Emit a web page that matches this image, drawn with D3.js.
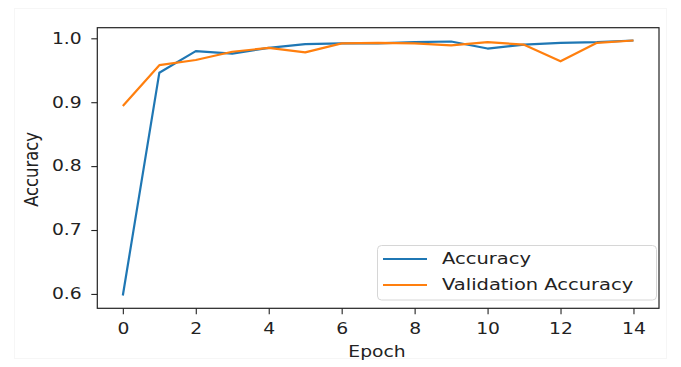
<!DOCTYPE html>
<html>
<head>
<meta charset="utf-8">
<script src="https://cdn.jsdelivr.net/npm/d3@7"></script>
<style>
  html, body { margin: 0; padding: 0; background: #fff; }
  svg { display: block; }
  text { font-family: "DejaVu Sans", sans-serif; fill: #222; }
</style>
</head>
<body>
<svg id="chart" width="681" height="367"></svg>
<script>
const epochs = [0,1,2,3,4,5,6,7,8,9,10,11,12,13,14];
const accuracy = [0.5975, 0.946, 0.980, 0.976, 0.985, 0.991, 0.992, 0.992, 0.994, 0.995, 0.984, 0.990, 0.993, 0.994, 0.9966];
const valAccuracy = [0.894, 0.958, 0.966, 0.979, 0.985, 0.978, 0.992, 0.993, 0.992, 0.989, 0.994, 0.990, 0.964, 0.993, 0.9966];
const xTicks = [0,2,4,6,8,10,12,14];
const yTicks = [0.6,0.7,0.8,0.9,1.0];
const seriesNames = ["Accuracy", "Validation Accuracy"];
const colors = ["#1f77b4", "#ff7f0e"];

const svg = d3.select("#chart");
const mLeft = 97.3, mRight = 659, mTop = 27.7, mBottom = 308.3;
const FS = 15, SX = 1.25;

const x = d3.scaleLinear().domain([-0.7, 14.7]).range([mLeft, mRight]);
const y = d3.scaleLinear().domain([0.5775, 1.0166]).range([mBottom, mTop]);

// faint image frame
svg.append("rect").attr("x", 14.5).attr("y", 8.5).attr("width", 652).attr("height", 350)
  .attr("fill", "none").attr("stroke", "#f6f6f6").attr("stroke-width", 1);

// lines
const line = d3.line().x((d, i) => x(epochs[i])).y(d => y(d));
[accuracy, valAccuracy].forEach((s, k) => {
  svg.append("path").datum(s).attr("d", line)
    .attr("fill", "none").attr("stroke", colors[k]).attr("stroke-width", 2.2)
    .attr("stroke-linejoin", "round").attr("stroke-linecap", "butt");
});

// axes
const xAxis = svg.append("g").attr("transform", `translate(0,${mBottom})`)
  .call(d3.axisBottom(x).tickValues(xTicks).tickFormat(d3.format("d")).tickSize(6).tickSizeOuter(0));
const yAxis = svg.append("g").attr("transform", `translate(${mLeft},0)`)
  .call(d3.axisLeft(y).tickValues(yTicks).tickFormat(d3.format(".1f")).tickSize(6).tickSizeOuter(0));
[xAxis, yAxis].forEach(g => {
  g.select(".domain").remove();
  g.selectAll(".tick line").attr("stroke", "#222").attr("stroke-width", 1.1);
  g.selectAll("text").attr("font-size", FS).attr("fill", "#222").style("font-family", "DejaVu Sans");
});
xAxis.selectAll("text").attr("y", 15.5).attr("transform", `scale(${SX},1)`);
yAxis.selectAll("text").attr("x", 0).attr("transform", `translate(-15.6,0) scale(${SX},1)`);

// frame
svg.append("rect").attr("x", mLeft).attr("y", mTop).attr("width", mRight - mLeft).attr("height", mBottom - mTop)
  .attr("fill", "none").attr("stroke", "#222").attr("stroke-width", 1.2);

// axis labels
svg.append("text").attr("transform", `translate(377,357) scale(${SX},1)`)
  .attr("text-anchor", "middle").attr("font-size", FS).text("Epoch");
svg.append("text").attr("transform", `translate(38,169.5) rotate(-90) scale(1.09,1.25)`)
  .attr("text-anchor", "middle").attr("font-size", FS).text("Accuracy");

// legend
const lg = svg.append("g");
lg.append("rect").attr("x", 377.5).attr("y", 245.5).attr("width", 279).attr("height", 54.5)
  .attr("rx", 4).attr("fill", "#fff").attr("fill-opacity", 0.85)
  .attr("stroke", "#d6d6d6").attr("stroke-width", 1);
seriesNames.forEach((name, i) => {
  const cy = 259 + i * 26;
  lg.append("line").attr("x1", 383).attr("x2", 427).attr("y1", cy).attr("y2", cy)
    .attr("stroke", colors[i]).attr("stroke-width", 2.2);
  lg.append("text").attr("transform", `translate(442,${cy + 5.3}) scale(1.3,1)`)
    .attr("font-size", FS).text(name);
});
</script>
</body>
</html>
